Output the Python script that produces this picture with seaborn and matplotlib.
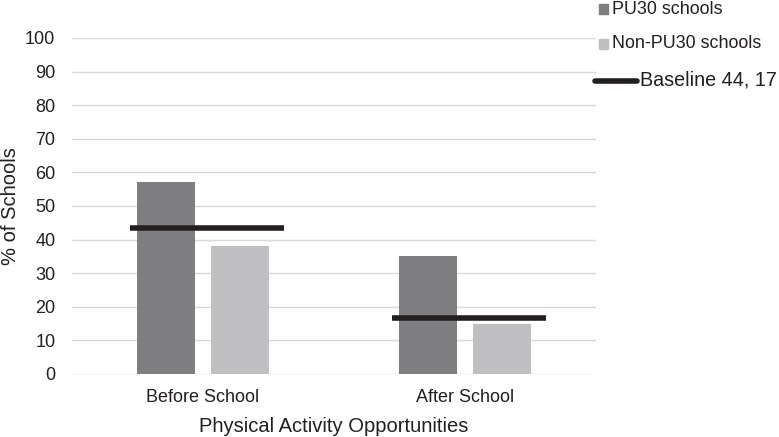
import matplotlib
matplotlib.use("Agg")
import matplotlib.pyplot as plt
from matplotlib.patches import Rectangle
from matplotlib.lines import Line2D
import seaborn as sns
import pandas as pd

categories = ["Before School", "After School"]
series_names = ["PU30 schools", "Non-PU30 schools"]
pu30 = [57, 35]
non_pu30 = [38, 15]
baseline = [43.5, 16.7]
baseline_label = "Baseline 44, 17"
y_ticks = [0, 10, 20, 30, 40, 50, 60, 70, 80, 90, 100]

sns.set_theme(style="white")
plt.rcParams["font.family"] = ["Liberation Sans", "DejaVu Sans"]
TXT = "#231f20"

df = pd.DataFrame({
    "cat": categories * 2,
    "series": [series_names[0]] * len(categories) + [series_names[1]] * len(categories),
    "value": pu30 + non_pu30,
})

fig = plt.figure(figsize=(7.79, 4.37), dpi=100)
ax = fig.add_axes([72 / 779, 63 / 437, 524 / 779, 336 / 437])

colors = ["#7f7f81", "#bfbfc1"]
sns.barplot(data=df, x="cat", y="value", hue="series", order=categories,
            hue_order=series_names, palette=colors, width=0.565, gap=0.22,
            saturation=1, ax=ax, legend=False, linewidth=0, zorder=2)

for i, b in enumerate(baseline):
    ax.hlines(b, i - 0.28, i + 0.31, color=TXT, linewidth=4.0, zorder=3)

ax.set_xlim(-0.5, 1.5)
ax.set_ylim(0, 100)
ax.set_yticks(y_ticks)
ax.yaxis.grid(True, color="#d9d9d9", linewidth=1.0, zorder=0)
ax.set_axisbelow(True)
for s in ax.spines.values():
    s.set_visible(False)
ax.tick_params(axis="both", length=0, labelsize=13, colors=TXT)
ax.tick_params(axis="y", pad=12)
ax.tick_params(axis="x", pad=11)
ax.set_xlabel("Physical Activity Opportunities", fontsize=14.5, color=TXT, labelpad=8)
ax.set_ylabel("% of Schools", fontsize=14.5, color=TXT)
ax.yaxis.set_label_coords(-0.099, 0.5)

# legend (drawn at top-right, outside axes)
W, H = 779, 437
def fx(px):
    return px / W
def fy(py):
    return 1 - py / H

for j, (name, c, yy) in enumerate(zip(series_names, colors, [9, 44])):
    fig.patches.append(Rectangle((fx(599), fy(yy + 4.5)), 9 / W, 9 / H,
                                 transform=fig.transFigure, color=c, figure=fig))
    fig.text(fx(612), fy(yy), name, fontsize=12.9, color=TXT, va="center", ha="left")

fig.lines.append(Line2D([fx(595), fx(637)], [fy(81), fy(81)], transform=fig.transFigure,
                        color=TXT, linewidth=4.0, figure=fig))
fig.text(fx(640), fy(80), baseline_label, fontsize=14.2, color=TXT, va="center", ha="left")

fig.savefig("out.png", dpi=100)
